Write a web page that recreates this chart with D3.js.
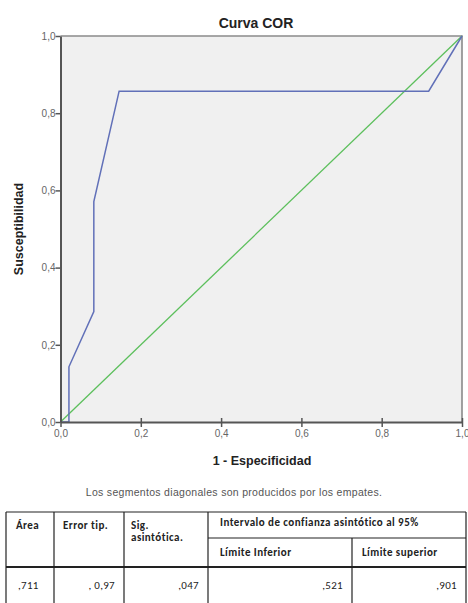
<!DOCTYPE html>
<html><head><meta charset="utf-8">
<script src="https://cdn.jsdelivr.net/npm/d3@7"></script>
<style>body{margin:0;background:#fff;}svg{display:block;}</style>
</head><body>
<script>
const title = "Curva COR";
const xLabel = "1 - Especificidad";
const yLabel = "Susceptibilidad";
const footnote = "Los segmentos diagonales son producidos por los empates.";
const tickValues = [0, 0.2, 0.4, 0.6, 0.8, 1.0];
const rocFPR = [0, 0.021, 0.021, 0.083, 0.083, 0.146, 0.917, 1];
const rocTPR = [0, 0, 0.143, 0.286, 0.571, 0.857, 0.857, 1];
const refX = [0, 1];
const refY = [0, 1];
const tableHeader1 = ["Área", "Error tip.", "Sig.\nasintótica.", "Intervalo de confianza asintótico al 95%"];
const tableHeader2 = ["Límite Inferior", "Límite superior"];
const tableRow = [",711", ", 0,97", ",047", ",521", ",901"];

const W = 468, H = 603;
const svg = d3.select("body").append("svg").attr("width", W).attr("height", H);
const x = d3.scaleLinear().domain([0, 1]).range([60.5, 462]);
const y = d3.scaleLinear().domain([0, 1]).range([422, 36]);
const fmt = d => d3.format(".1f")(d).replace(".", ",");

svg.append("rect").attr("x", x(0)).attr("y", y(1)).attr("width", x(1) - x(0)).attr("height", y(0) - y(1))
  .attr("fill", "#f0f0f0");
svg.append("path").attr("d", `M${x(0)},${y(1)}H${x(1)}V${y(0)}`).attr("fill", "none")
  .attr("stroke", "#8a8a8a").attr("stroke-width", 1.6);

const line = d3.line().x(d => x(d[0])).y(d => y(d[1]));
svg.append("path").datum(refX.map((v, i) => [v, refY[i]])).attr("d", line)
  .attr("fill", "none").attr("stroke", "#5cbf5c").attr("stroke-width", 1.3);
svg.append("path").datum(rocFPR.map((v, i) => [v, rocTPR[i]])).attr("d", line)
  .attr("fill", "none").attr("stroke", "#6170b8").attr("stroke-width", 1.5);

const ax = svg.append("g").attr("transform", `translate(0,${y(0)})`)
  .call(d3.axisBottom(x).tickValues(tickValues).tickFormat(fmt).tickSize(5).tickSizeOuter(0));
const ay = svg.append("g").attr("transform", `translate(${x(0)},0)`)
  .call(d3.axisLeft(y).tickValues(tickValues).tickFormat(fmt).tickSize(5).tickSizeOuter(0));
[ax, ay].forEach(g => {
  g.select(".domain").attr("stroke", "#555").attr("stroke-width", 2);
  g.selectAll(".tick line").attr("stroke", "#555").attr("stroke-width", 1.5);
  g.selectAll("text").attr("font-family", "Liberation Sans, Arial, sans-serif").attr("font-size", 10).attr("fill", "#666");
});
ax.selectAll(".tick line").attr("y1", -4);
ax.selectAll("text").attr("dy", "0.71em").attr("y", 8);
ay.selectAll("text").attr("x", -5);

svg.append("text").attr("x", 256).attr("y", 28).attr("text-anchor", "middle")
  .attr("font-family", "Liberation Sans, Arial, sans-serif").attr("font-weight", "bold").attr("font-size", 14)
  .attr("fill", "#222").text(title);
svg.append("text").attr("x", 262).attr("y", 465).attr("text-anchor", "middle")
  .attr("font-family", "Liberation Sans, Arial, sans-serif").attr("font-weight", "bold").attr("font-size", 12.5)
  .attr("fill", "#222").text(xLabel);
svg.append("text").attr("transform", "translate(23,229) rotate(-90)").attr("text-anchor", "middle")
  .attr("font-family", "Liberation Sans, Arial, sans-serif").attr("font-weight", "bold").attr("font-size", 12.5)
  .attr("fill", "#222").text(yLabel);
svg.append("text").attr("x", 234).attr("y", 496).attr("text-anchor", "middle")
  .attr("font-family", "Liberation Sans, Arial, sans-serif").attr("font-size", 10.5)
  .attr("fill", "#555").attr("letter-spacing", 0.3).text(footnote);

const cols = [6, 54, 124, 208, 352, 466];
const tTop = 512, tSub = 538, tHead = 567, tBot = 610;
const tg = svg.append("g").attr("stroke", "#222").attr("stroke-width", 1.2);
tg.append("line").attr("x1", cols[0]).attr("x2", cols[5]).attr("y1", tTop).attr("y2", tTop);
tg.append("line").attr("x1", cols[3]).attr("x2", cols[5]).attr("y1", tSub).attr("y2", tSub);
tg.append("line").attr("x1", cols[0]).attr("x2", cols[5]).attr("y1", tHead).attr("y2", tHead).attr("stroke-width", 2);
cols.forEach((c, i) => {
  tg.append("line").attr("x1", c).attr("x2", c).attr("y1", (i === 4) ? tSub : tTop).attr("y2", tBot);
});
const tf = "Carlito, Lato, 'Open Sans', sans-serif";
const hdr = svg.append("g").attr("font-family", tf).attr("font-size", 11).attr("letter-spacing", 0.45)
  .attr("font-weight", "bold").attr("fill", "#222");
hdr.append("text").attr("x", cols[0] + 10).attr("y", 529).text(tableHeader1[0]);
hdr.append("text").attr("x", cols[1] + 9).attr("y", 529).text(tableHeader1[1]);
const sig = tableHeader1[2].split("\n");
hdr.append("text").attr("x", cols[2] + 7).attr("y", 529).text(sig[0]);
hdr.append("text").attr("x", cols[2] + 7).attr("y", 541).text(sig[1]);
hdr.append("text").attr("x", cols[3] + 12).attr("y", 526).text(tableHeader1[3]);
hdr.append("text").attr("x", cols[3] + 12).attr("y", 556).text(tableHeader2[0]);
hdr.append("text").attr("x", cols[4] + 10).attr("y", 556).text(tableHeader2[1]);
const rowG = svg.append("g").attr("font-family", tf).attr("font-size", 11).attr("letter-spacing", 0.3).attr("fill", "#222");
rowG.append("text").attr("x", cols[0] + 12).attr("y", 589).text(tableRow[0]);
[1, 2, 3, 4].forEach(i => {
  rowG.append("text").attr("x", cols[i + 1] - 9).attr("y", 589).attr("text-anchor", "end").text(tableRow[i]);
});
</script>
</body></html>
